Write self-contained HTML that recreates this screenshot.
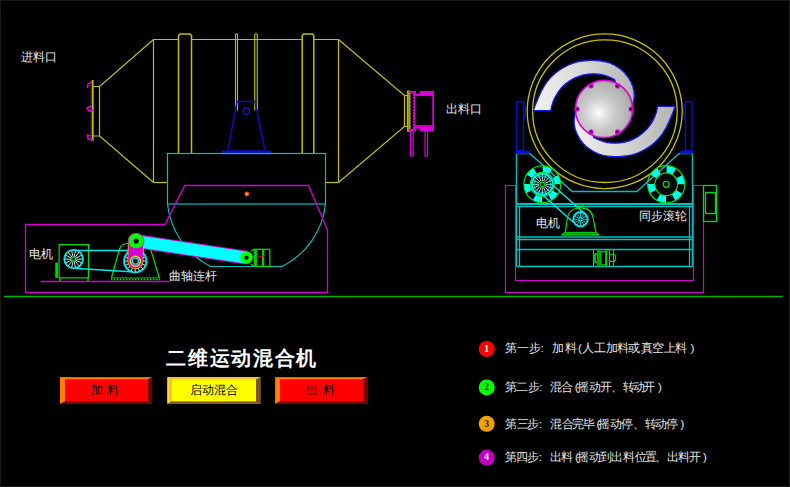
<!DOCTYPE html>
<html><head><meta charset="utf-8">
<style>
html,body{margin:0;padding:0;background:#000;width:790px;height:487px;overflow:hidden}
svg{display:block}
text{font-family:"Liberation Sans",sans-serif}
</style></head>
<body>
<svg width="790" height="487" viewBox="0 0 790 487">
<defs>
  <radialGradient id="sph" cx="0.41" cy="0.57" r="0.66">
    <stop offset="0" stop-color="#ffffff"/>
    <stop offset="0.12" stop-color="#ececec"/>
    <stop offset="0.42" stop-color="#cacaca"/>
    <stop offset="0.75" stop-color="#b6b6b6"/>
    <stop offset="1" stop-color="#9a9a9a"/>
  </radialGradient>
  <linearGradient id="crg" gradientUnits="userSpaceOnUse" x1="533" y1="0" x2="640" y2="0">
    <stop offset="0" stop-color="#f2f2f2"/>
    <stop offset="0.5" stop-color="#d6d6d6"/>
    <stop offset="1" stop-color="#b0b0b0"/>
  </linearGradient>
  <linearGradient id="crg2" gradientUnits="userSpaceOnUse" x1="533" y1="0" x2="640" y2="0">
    <stop offset="0" stop-color="#b4b4b4"/>
    <stop offset="0.5" stop-color="#d6d6d6"/>
    <stop offset="1" stop-color="#f2f2f2"/>
  </linearGradient>
</defs>
<rect width="790" height="487" fill="#000"/>
<rect x="0.5" y="0.5" width="789" height="486" fill="none" stroke="#34342a" stroke-width="1" stroke-dasharray="1 1"/>

<!-- ================= LEFT MACHINE ================= -->
<g fill="none" stroke="#c4c000" stroke-width="1.2">
  <line x1="153.5" y1="39.5" x2="338.5" y2="39.5"/>
  <line x1="153.5" y1="39.5" x2="153.5" y2="182.5"/>
  <line x1="338.5" y1="39.5" x2="338.5" y2="182.5"/>
  <line x1="153.5" y1="182.5" x2="167.5" y2="182.5"/>
  <line x1="325.5" y1="182.5" x2="338.5" y2="182.5"/>
  <polyline points="153.5,39.5 99.5,86.5 99.5,136 153.5,182.5"/>
  <polyline points="99.5,86.5 92.5,86.5 92.5,136 99.5,136"/>
  <polyline points="338.5,39.5 404.5,95.5 404.5,126.5 338.5,182.5"/>
  <polyline points="404.5,95.5 407.5,95.5 407.5,126.5 404.5,126.5"/>
  <path d="M178.5,153.5 V35.5 L180,34 H190 L191.5,35.5 V153.5" fill="#000" stroke-width="1.5"/>
  <path d="M302.2,153.5 V35.5 L303.7,34 H312.3 L313.8,35.5 V153.5" fill="#000" stroke-width="1.5"/>
  <path d="M235.5,110.5 V34.5 Q236.5,33 237.5,34.5 V110.5" stroke-width="1.1"/>
  <path d="M254.7,110.5 V34.5 Q256,33 257.3,34.5 V110.5" stroke-width="1.1"/>
</g>
<rect x="407.6" y="91" width="2.4" height="40.2" fill="#9c9000" stroke="#c4c000" stroke-width="0.9"/>
<line x1="92.8" y1="80" x2="92.8" y2="141" stroke="#c4c000" stroke-width="1.6"/>
<line x1="91.3" y1="80" x2="91.3" y2="141" stroke="#d400d4" stroke-width="1" stroke-dasharray="1.5 1"/>
<g stroke="#d400d4" stroke-width="1.6" fill="none">
  <path d="M92,82 L88,84 L87.5,88"/>
  <path d="M91,106 L87,108 L89,111 L93,110"/>
  <path d="M91,136 L87.5,135 L88,139 L93,140"/>
</g>

<!-- outlet magenta -->
<g fill="none" stroke="#d400d4" stroke-width="1.2">
  <line x1="413.5" y1="91" x2="413.5" y2="131" stroke-dasharray="2 1"/>
  <rect x="414.5" y="95.5" width="18.5" height="30.5"/>
  <rect x="410.5" y="131" width="2.6" height="25"/>
  <rect x="425" y="131" width="2.6" height="25"/>
</g>
<path d="M409,91 H416 V93.7 H419.7 V91 H433.8 V96 H413.5 V93 H409 Z" fill="#d400d4"/>
<path d="M409,131.2 H416 V128.7 H419.7 V131.2 H433.8 V125.5 H413.5 V129 H409 Z" fill="#d400d4"/>
<line x1="433.3" y1="91" x2="433.3" y2="131.2" stroke="#d400d4" stroke-width="1.4"/>

<!-- blue bracket -->
<g stroke="#0c0cd0" fill="none" stroke-width="1.4">
  <polygon points="237,101.5 255,101.5 265.1,151.2 227.7,151.2"/>
  <circle cx="246.4" cy="111" r="3.2"/>
</g>
<rect x="221.7" y="150.6" width="49.3" height="3.6" fill="#0c0cd0"/>
<line x1="222" y1="153" x2="271" y2="153" stroke="#000070" stroke-width="0.8" stroke-dasharray="1 1"/>

<!-- cyan box + bowl -->
<g fill="none" stroke="#00c0c0" stroke-width="1.2">
  <rect x="167.5" y="153.5" width="158" height="50.5"/>
  <path d="M167.5,204 A79.5,79.5 0 0 0 210.6,266.5 L282,266.5 A79.5,79.5 0 0 0 325.5,204"/>
</g>
<circle cx="246.8" cy="194" r="2.4" fill="#ff4000"/>
<circle cx="246.8" cy="194" r="1.1" fill="#ffd000"/>

<!-- magenta frame -->
<g fill="none" stroke="#d400d4" stroke-width="1.3">
  <polygon points="25.5,224.5 165,224.5 184.7,185.5 308.5,185.5 327.5,229.8 327.5,292.5 25.5,292.5"/>
  <line x1="40.7" y1="281.5" x2="169" y2="281.5"/>
</g>

<!-- motor -->
<g fill="none" stroke="#00e000" stroke-width="1.2">
  <rect x="59.1" y="244.6" width="29.4" height="33.3"/>
  <path d="M111.4,278 L119.5,249 Q121.5,243.5 128,243.5 L143,243.5 Q148.5,243.5 150.5,249 L159.4,278"/>
  <line x1="111" y1="278" x2="160" y2="278"/>
  <line x1="111" y1="279.6" x2="160" y2="279.6" stroke-dasharray="1.5 1.5"/>
  <line x1="60" y1="278" x2="60" y2="281"/><line x1="88" y1="278" x2="88" y2="281"/>
</g>
<rect x="55.3" y="262.7" width="2.5" height="15.2" fill="#00e000"/>
<g stroke="#00e8e8" stroke-width="1.5">
  <line x1="75" y1="250.6" x2="130" y2="250.6"/>
  <line x1="73.2" y1="268.3" x2="131" y2="271.8"/>
</g>
<circle cx="73.6" cy="259.1" r="9.3" fill="#000" stroke="#00e8e8" stroke-width="1.8"/>
<path d="M76.1,259.1 L82.3,259.1 M75.9,260.2 L81.4,262.9 M75.2,261.1 L79.0,265.9 M74.2,261.5 L75.5,267.6 M73.0,261.5 L71.7,267.6 M72.0,261.1 L68.2,265.9 M71.3,260.2 L65.8,262.9 M71.1,259.1 L64.9,259.1 M71.3,258.0 L65.8,255.3 M72.0,257.1 L68.2,252.3 M73.0,256.7 L71.7,250.6 M74.2,256.7 L75.5,250.6 M75.2,257.1 L79.0,252.3 M75.9,258.0 L81.4,255.3" stroke="#c0ffff" stroke-width="0.9"/>
<circle cx="73.6" cy="259.1" r="2" fill="none" stroke="#00e000" stroke-width="1.2"/>
<circle cx="135.3" cy="261.1" r="11.3" fill="#000" stroke="#00e8e8" stroke-width="1.8"/>
<path d="M140.8,261.1 L146.0,261.1 M140.4,263.2 L145.2,265.2 M139.2,265.0 L142.9,268.7 M137.4,266.2 L139.4,271.0 M135.3,266.6 L135.3,271.8 M133.2,266.2 L131.2,271.0 M131.4,265.0 L127.7,268.7 M130.2,263.2 L125.4,265.2 M129.8,261.1 L124.6,261.1 M130.2,259.0 L125.4,257.0 M131.4,257.2 L127.7,253.5 M133.2,256.0 L131.2,251.2 M135.3,255.6 L135.3,250.4 M137.4,256.0 L139.4,251.2 M139.2,257.2 L142.9,253.5 M140.4,259.0 L145.2,257.0" stroke="#c0ffff" stroke-width="0.9"/>
<circle cx="135.3" cy="261.1" r="2" fill="none" stroke="#00e000" stroke-width="1.2"/>
<!-- crank link -->
<line x1="136.2" y1="241.1" x2="246.4" y2="257.6" stroke="#d400d4" stroke-width="14"/>
<line x1="136.2" y1="241.1" x2="246.4" y2="257.6" stroke="#00ffff" stroke-width="12"/>
<line x1="136" y1="241.1" x2="135.4" y2="261.3" stroke="#e0d000" stroke-width="16" stroke-linecap="round"/>
<line x1="136" y1="241.1" x2="135.4" y2="261.3" stroke="#d400d4" stroke-width="14.4" stroke-linecap="round"/>
<circle cx="136.1" cy="241" r="7.8" fill="#00ff00" stroke="#d400d4" stroke-width="0.8"/>
<circle cx="136.1" cy="241" r="2.6" fill="#000"/>
<circle cx="135.4" cy="261.2" r="5" fill="none" stroke="#e0e000" stroke-width="1.4"/>
<circle cx="135.4" cy="261.2" r="3" fill="#000" stroke="#00e8e8" stroke-width="1.2"/>
<circle cx="246.5" cy="257.6" r="6.3" fill="#00ff00"/>
<circle cx="246.5" cy="257.6" r="2.2" fill="#000"/>
<g fill="none" stroke="#00e000" stroke-width="1.2">
  <rect x="254.2" y="249.3" width="15.6" height="17.3"/>
  <path d="M251,251.5 Q252,249.5 254.2,249.3 M251,263.8 Q252,266 254.2,266.5"/>
</g>
<rect x="254.5" y="249.3" width="2.4" height="17.3" fill="#00d000"/>
<rect x="262" y="249.3" width="2.2" height="17.3" fill="#00d000"/>
<line x1="257.3" y1="257.3" x2="265.9" y2="255.5" stroke="#e00000" stroke-width="1.2"/>

<!-- ground line -->
<line x1="4" y1="296.5" x2="782.5" y2="296.5" stroke="#00b400" stroke-width="1.4"/>

<!-- ================= RIGHT MACHINE ================= -->
<polygon points="505.5,185.5 515.5,185.5 515.5,280.5 693.5,280.5 693.5,185.5 703.5,185.5 703.5,292.5 505.5,292.5" fill="none" stroke="#d400d4" stroke-width="1.2"/>
<g fill="none" stroke="#00e000" stroke-width="1.3">
  <rect x="703.5" y="185.5" width="13" height="36"/>
  <rect x="705.5" y="192.5" width="10" height="21" />
</g>
<g fill="none" stroke="#00c0c0" stroke-width="1.3">
  <polyline points="516.5,266.5 516.5,153.5 529.8,153.5 572.3,191.5 636.8,191.5 679.1,153.5 692.5,153.5 692.5,266.5"/>
  <line x1="519.5" y1="206.5" x2="519.5" y2="266.5"/>
  <line x1="689.5" y1="206.5" x2="689.5" y2="266.5"/>
  <line x1="516.5" y1="204" x2="692.5" y2="204" stroke-width="2"/>
  <line x1="516.5" y1="206.5" x2="692.5" y2="206.5"/>
  <line x1="516.5" y1="237" x2="692.5" y2="237" stroke-width="1.6"/>
  <line x1="516.5" y1="239.5" x2="692.5" y2="239.5"/>
  <line x1="516.5" y1="249.5" x2="692.5" y2="249.5"/>
  <line x1="516.5" y1="266.5" x2="692.5" y2="266.5" stroke-width="1.5"/>
</g>
<g fill="none" stroke="#0c0cd0" stroke-width="1.4">
  <rect x="516.5" y="101.5" width="7" height="49"/>
  <rect x="685.5" y="101.5" width="6.5" height="49"/>
  <path d="M523.5,108.4 H525.8 M523.5,113.5 H525.8 M524.5,103 Q526.5,110.5 524.5,118.4" stroke-width="1.2"/>
  <path d="M685.5,108.4 H683.4 M685.5,113.5 H683.4 M684.6,103 Q682.6,110.5 684.6,118.4" stroke-width="1.2"/>
</g>
<rect x="516" y="150.6" width="13.6" height="3.2" fill="#0c0cd0"/>
<rect x="679.9" y="150.6" width="12.8" height="3.2" fill="#0c0cd0"/>
<g fill="none" stroke="#c4c000" stroke-width="1.3">
  <ellipse cx="604.7" cy="111.25" rx="77.5" ry="77.4"/>
  <ellipse cx="604.9" cy="111.2" rx="72.3" ry="71.3"/>
</g>
<path d="M533.3,110.6 C533.8,109.1 535.2,105.1 536.6,101.8 C538.0,98.5 539.8,94.2 541.6,90.7 C543.5,87.2 545.2,84.0 547.7,80.9 C550.2,77.8 553.0,74.8 556.3,72.2 C559.6,69.6 563.9,67.2 567.4,65.5 C570.9,63.8 573.9,62.6 577.3,61.8 C580.7,61.0 584.7,60.7 588.0,60.5 C591.3,60.3 593.7,60.1 597.3,60.5 C600.9,60.9 605.7,61.5 609.6,63.0 C613.5,64.5 617.6,66.8 620.7,69.2 C623.8,71.6 626.1,74.2 628.1,77.2 C630.1,80.2 632.0,83.9 633.0,87.0 C634.0,90.1 634.3,92.8 634.3,95.7 C634.3,98.6 633.2,102.9 633.0,104.3 L622,100 L614.6,79.6 A42.8,42.8 0 0 0 550.8,110.6 Z" fill="url(#crg)" stroke="#1818f0" stroke-width="1.3"/>
<path d="M533.3,110.6 C533.8,109.1 535.2,105.1 536.6,101.8 C538.0,98.5 539.8,94.2 541.6,90.7 C543.5,87.2 545.2,84.0 547.7,80.9 C550.2,77.8 553.0,74.8 556.3,72.2 C559.6,69.6 563.9,67.2 567.4,65.5 C570.9,63.8 573.9,62.6 577.3,61.8 C580.7,61.0 584.7,60.7 588.0,60.5 C591.3,60.3 593.7,60.1 597.3,60.5 C600.9,60.9 605.7,61.5 609.6,63.0 C613.5,64.5 617.6,66.8 620.7,69.2 C623.8,71.6 626.1,74.2 628.1,77.2 C630.1,80.2 632.0,83.9 633.0,87.0 C634.0,90.1 634.3,92.8 634.3,95.7 C634.3,98.6 633.2,102.9 633.0,104.3 L622,100 L614.6,79.6 A42.8,42.8 0 0 0 550.8,110.6 Z" fill="url(#crg2)" stroke="#1818f0" stroke-width="1.3" transform="rotate(180 604.2 108.5)"/>
<circle cx="604" cy="109" r="28.6" fill="url(#sph)" stroke="#d400d4" stroke-width="1.6"/>
<g fill="#d400d4">
  <circle cx="591" cy="85.8" r="2.6"/><circle cx="617.6" cy="85.8" r="2.6"/>
  <circle cx="631.2" cy="109" r="2.6"/><circle cx="617.6" cy="132.2" r="2.6"/>
  <circle cx="591" cy="132.2" r="2.6"/><circle cx="577" cy="109" r="2.6"/>
</g>
<g fill="#000">
  <circle cx="591.3" cy="86.3" r="1.1"/><circle cx="617.3" cy="86.3" r="1.1"/>
  <circle cx="630.6" cy="109" r="1.1"/><circle cx="617.3" cy="131.7" r="1.1"/>
  <circle cx="591.3" cy="131.7" r="1.1"/><circle cx="577.6" cy="109" r="1.1"/>
</g>

<circle cx="542.3" cy="184.3" r="15.20" fill="none" stroke="#00ffff" stroke-width="6.40" stroke-dasharray="7.959 7.959" transform="rotate(-30 542.3 184.3)"/>
<circle cx="542.3" cy="184.3" r="18.4" fill="none" stroke="#00e000" stroke-width="1.2"/>
<circle cx="542.3" cy="184.3" r="12" fill="none" stroke="#00e000" stroke-width="1.2"/>
<circle cx="542.3" cy="184.3" r="10.5" fill="#000" stroke="#00e8e8" stroke-width="2"/>
<path d="M545.5,184.3 L552.2,184.3 M545.3,185.5 L551.4,188.1 M544.6,186.6 L549.3,191.3 M543.5,187.3 L546.1,193.4 M542.3,187.5 L542.3,194.2 M541.1,187.3 L538.5,193.4 M540.0,186.6 L535.3,191.3 M539.3,185.5 L533.2,188.1 M539.1,184.3 L532.4,184.3 M539.3,183.1 L533.2,180.5 M540.0,182.0 L535.3,177.3 M541.1,181.3 L538.5,175.2 M542.3,181.1 L542.3,174.4 M543.5,181.3 L546.1,175.2 M544.6,182.0 L549.3,177.3 M545.3,183.1 L551.4,180.5" stroke="#c0ffff" stroke-width="0.9"/>
<circle cx="542.3" cy="184.3" r="2.2" fill="none" stroke="#00e000" stroke-width="1.2"/>
<circle cx="542.3" cy="184.3" r="8.3" fill="none" stroke="#00d8d8" stroke-width="0.9"/>
<circle cx="666.2" cy="184.3" r="15.00" fill="none" stroke="#00ffff" stroke-width="7.20" stroke-dasharray="7.854 7.854" transform="rotate(-30 666.2 184.3)"/>
<circle cx="666.2" cy="184.3" r="18.6" fill="none" stroke="#00e000" stroke-width="1.2"/>
<circle cx="666.2" cy="184.3" r="11.4" fill="none" stroke="#00e000" stroke-width="1.2"/>
<circle cx="666.2" cy="184.3" r="3" fill="none" stroke="#00e000" stroke-width="1.2"/>
<g stroke="#00e8e8" stroke-width="1.5">
  <line x1="551.5" y1="184" x2="584" y2="213"/>
  <line x1="542.4" y1="194.8" x2="573" y2="222"/>
</g>
<path d="M561.6,234.9 L565.3,232.4 L567.3,219 C568,211 574,207.8 580.5,207.8 C587,207.8 592.5,211 593.3,219 L596,232.4 L598.9,234.9" fill="none" stroke="#00e000" stroke-width="1.2"/>
<rect x="564" y="232.4" width="32.5" height="2.5" fill="#007000"/>
<line x1="561.6" y1="234.9" x2="598.9" y2="234.9" stroke="#00e000" stroke-width="1.1"/>
<line x1="564" y1="232.4" x2="596.5" y2="232.4" stroke="#00e000" stroke-width="1"/>
<rect x="578.8" y="203.5" width="3.4" height="4" fill="none" stroke="#00d000" stroke-width="1"/>
<circle cx="580.5" cy="219.3" r="7.2" fill="#000" stroke="#00e8e8" stroke-width="2"/>
<path d="M582.5,219.3 L587.1,219.3 M582.2,220.3 L586.2,222.6 M581.5,221.0 L583.8,225.0 M580.5,221.3 L580.5,225.9 M579.5,221.0 L577.2,225.0 M578.8,220.3 L574.8,222.6 M578.5,219.3 L573.9,219.3 M578.8,218.3 L574.8,216.0 M579.5,217.6 L577.2,213.6 M580.5,217.3 L580.5,212.7 M581.5,217.6 L583.8,213.6 M582.2,218.3 L586.2,216.0" stroke="#00d8d8" stroke-width="0.9"/>
<circle cx="580.5" cy="219.3" r="1.6" fill="none" stroke="#00e8e8" stroke-width="1.2"/>

<rect x="597" y="249.5" width="3.3" height="17" fill="#00a000"/>
<g fill="none" stroke="#00e000" stroke-width="1.1">
  <path d="M593.5,249.5 V266.5 M606.5,249.5 V266.5 M609.5,249.5 V266.5 M613.5,249.5 V266.5"/>
  <rect x="600.8" y="251.7" width="4.9" height="13.1"/>
  <path d="M597,254 H595 V262 H597" stroke-width="1.6"/>
  <path d="M609.5,254.2 H613 Q615.7,254.2 615.7,257.8 Q615.7,261.4 613,261.4 H609.5"/>
</g>

<!-- ================= LABELS ================= -->
<g fill="#e8e8e8" font-size="11.5" font-weight="300">
  <text x="20.5" y="61">进料口</text>
  <text x="446" y="112.5">出料口</text>
  <text x="29" y="257.5">电机</text>
  <text x="169.3" y="279.5">曲轴连杆</text>
  <text x="536" y="227">电机</text>
  <text x="639" y="219.5">同步滚轮</text>
</g>

<!-- ================= BOTTOM ================= -->
<text x="166.3" y="364.6" fill="#ffffff" font-size="20" font-weight="bold" textLength="150" lengthAdjust="spacing">二维运动混合机</text>

<g>
  <rect x="60" y="377.2" width="92" height="26.5" fill="#ff0000"/>
  <polygon points="60,377.2 152,377.2 148,379.3 65,379.3 65,401.6 60,403.7" fill="#ff8000"/>
  <polygon points="152,377.2 152,403.7 60,403.7 65,401.6 148,401.6 148,379.3" fill="#700000"/>
  <text y="394" fill="#200000" font-size="12"><tspan x="90.5">加</tspan><tspan x="106.8">料</tspan></text>

  <rect x="167.6" y="377.2" width="92.7" height="26.5" fill="#ffff00"/>
  <polygon points="167.6,377.2 260.3,377.2 256,379.3 172,379.3 172,401.6 167.6,403.7" fill="#ffc040"/><line x1="168" y1="377.5" x2="168" y2="403.5" stroke="#ffff00" stroke-width="0.9"/>
  <polygon points="260.3,377.2 260.3,403.7 167.6,403.7 171,401.6 256,401.6 256,379.3" fill="#805020"/>
  <text x="213.5" y="394" fill="#000" font-size="12" text-anchor="middle">启动混合</text>

  <rect x="275.2" y="377.2" width="92.3" height="26.5" fill="#ff0000"/>
  <polygon points="275.2,377.2 367.5,377.2 363,379.3 280,379.3 280,401.6 275.2,403.7" fill="#ff8000"/>
  <polygon points="367.5,377.2 367.5,403.7 275.2,403.7 280,401.6 363,401.6 363,379.3" fill="#700000"/>
  <text y="394" fill="#200000" font-size="12"><tspan x="305.6">出</tspan><tspan x="322.5">料</tspan></text>
</g>

<g font-size="11.5" font-weight="300">
  <circle cx="486.7" cy="349" r="8" fill="#ff0000"/>
  <text x="486.6" y="351.7" fill="#fff" font-size="9.5" font-weight="bold" text-anchor="middle" style="font-family:'Liberation Serif',serif">1</text>
  <text x="504.6 517.0 528.7 540.5 551.6 564.6 577.9 581.9 594.3 605.6 616.7 628.4 640.7 652.2 663.7 674.8 690.6" y="352" fill="#e4e4e4">第一步:加料(人工加料或真空上料)</text>
  <circle cx="486.7" cy="387.4" r="8" fill="#00ff00"/>
  <text x="486.6" y="390.1" fill="#000" font-size="9.5" font-weight="bold" text-anchor="middle" style="font-family:'Liberation Serif',serif">2</text>
  <text x="504.6 516.4 528.1 539.2 549.9 560.9 574.7 577.2 589.4 600.2 611.3 622.5 632.6 643.3 658.1" y="390.5" fill="#e4e4e4">第二步:混合(摇动开、转动开)</text>
  <circle cx="486.7" cy="423.8" r="8" fill="#f0a000"/>
  <text x="486.6" y="426.5" fill="#302000" font-size="9.5" font-weight="bold" text-anchor="middle" style="font-family:'Liberation Serif',serif">3</text>
  <text x="505.3 516.7 526.8 538.9 550.2 561.6 571.8 582.5 596.6 598.4 610.4 621.2 633.2 645.2 655.4 666.1 680.5" y="427.8" fill="#e4e4e4">第三步:混合完毕(摇动停、转动停)</text>
  <circle cx="486.7" cy="457.6" r="8" fill="#c000c0"/>
  <text x="486.6" y="460.3" fill="#fff" font-size="9.5" font-weight="bold" text-anchor="middle" style="font-family:'Liberation Serif',serif">4</text>
  <text x="505.4 516.0 526.8 538.7 549.7 560.9 574.9 576.9 588.7 600.3 611.4 622.6 635.1 644.9 655.4 667.1 677.6 688.7 703.0" y="461.3" fill="#e4e4e4">第四步:出料(摇动到出料位置、出料开)</text>
</g>
</svg>
</body></html>
